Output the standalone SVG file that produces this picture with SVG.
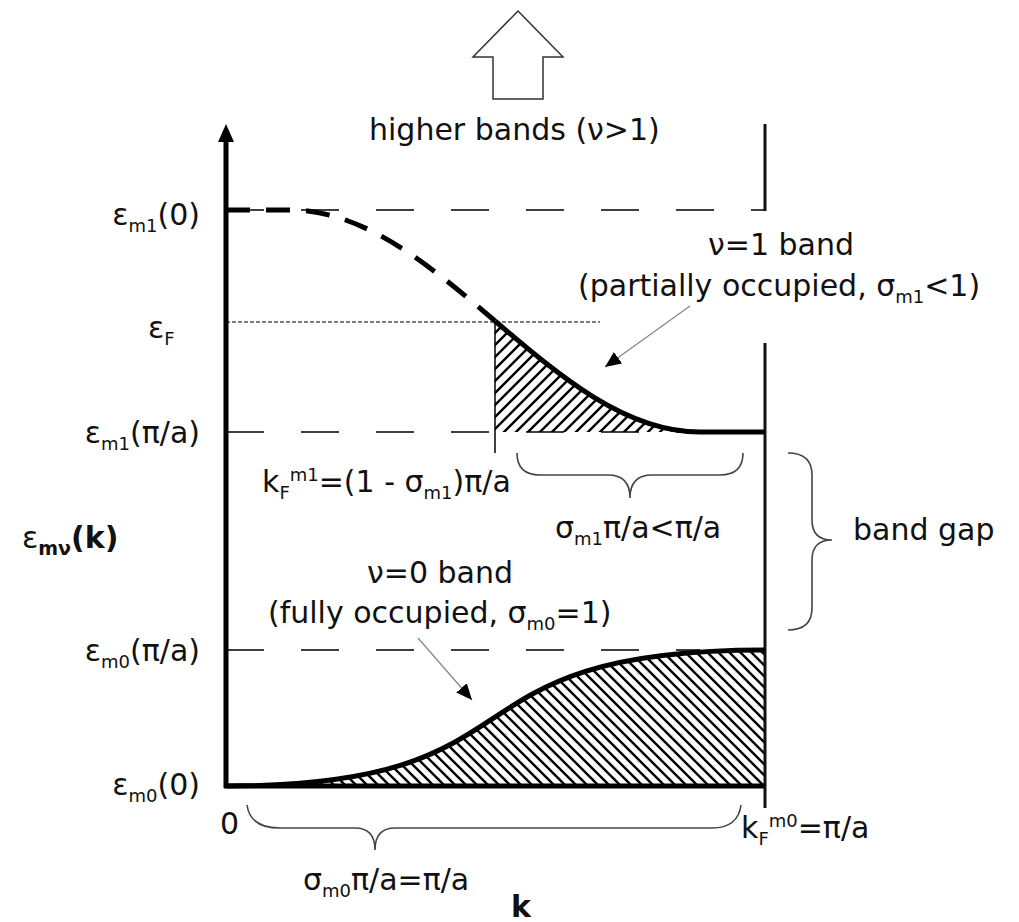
<svg xmlns="http://www.w3.org/2000/svg" width="1019" height="922" viewBox="0 0 1019 922">
<style>
text{font-family:"DejaVu Sans","Liberation Sans",sans-serif;font-size:30px;fill:#111}
.sub{font-size:18px}
.ref{stroke:#000;stroke-width:1.5;fill:none;stroke-dasharray:38 37}
.brace{stroke:#444;stroke-width:1.6;fill:none}
.ptr{stroke:#888;stroke-width:1.3;fill:none}
.curve{stroke:#000;stroke-width:5;fill:none}
.hl{stroke:#000;stroke-width:2.4;fill:none}
</style>
<defs>
<pattern id="hatchBack" patternUnits="userSpaceOnUse" x="0" y="0" width="11" height="11">
<path class="hl" d="M0,0 L11,11 M-2,9 L2,13 M9,-2 L13,2"/>
</pattern>
<pattern id="hatchFwd" patternUnits="userSpaceOnUse" x="0" y="0" width="12" height="12">
<path class="hl" d="M0,12 L12,0 M-2,2 L2,-2 M10,14 L14,10"/>
</pattern>
<marker id="head" markerUnits="userSpaceOnUse" markerWidth="18" markerHeight="14" refX="16" refY="7" orient="auto">
<path d="M0,0 L16,7 L0,14 Z" fill="#000"/>
</marker>
</defs>
<rect width="1019" height="922" fill="#fff"/>

<g id="hatching">
<path d="M226,786 C556,786 430,650 765,650 L765,786 Z" fill="url(#hatchBack)"/>
<path d="M495,321 C560.25,376.5 625.5,432 700,432 L495,432 Z" fill="url(#hatchFwd)"/>
</g>

<g id="reference-lines">
<line class="ref" x1="226" y1="210" x2="765" y2="210"/>
<line class="ref" x1="226" y1="432" x2="765" y2="432"/>
<line class="ref" x1="226" y1="650" x2="700" y2="650"/>
<line x1="226" y1="322" x2="600" y2="322" stroke="#000" stroke-width="1.2" stroke-dasharray="4 2"/>
<line x1="495" y1="321" x2="495" y2="453" stroke="#000" stroke-width="1.5"/>
</g>

<g id="axes">
<line x1="226" y1="138" x2="226" y2="788" stroke="#000" stroke-width="5"/>
<path d="M218,142 L226,124 L234,142 Z" fill="#000"/>
<line x1="224" y1="786" x2="766" y2="786" stroke="#000" stroke-width="5"/>
<line x1="765" y1="124" x2="765" y2="211" stroke="#111" stroke-width="3"/>
<line x1="765" y1="343" x2="765" y2="808" stroke="#111" stroke-width="3"/>
</g>

<g id="bands">
<path class="curve" d="M226,210 L290,210 C364.5,210 429.75,265.5 495,321" stroke-dasharray="24 16"/>
<path class="curve" d="M495,321 C560.25,376.5 625.5,432 700,432 L765,432"/>
<path class="curve" d="M226,786 C556,786 430,650 765,650"/>
</g>

<g id="higher-bands">
<polygon points="518,11 563,57 543,57 543,99 493,99 493,57 473,57" fill="#fff" stroke="#333" stroke-width="1.5"/>
<text x="369" y="140">higher bands (ν&gt;1)</text>
</g>

<g id="connectors">
<line class="ptr" x1="690" y1="306" x2="605" y2="367" marker-end="url(#head)"/>
<line class="ptr" x1="418" y1="638" x2="472" y2="700" marker-end="url(#head)"/>
<path class="brace" d="M788,453 Q812,453 812,475 L812,520 Q812,540 832,540 Q812,540 812,560 L812,608 Q812,630 788,630"/>
<path class="brace" d="M517,453 Q517,475 540,475 L608,475 Q630,475 630,498 Q630,475 652,475 L720,475 Q743,475 743,453"/>
<path class="brace" d="M247,805 Q250,828 280,828 L355,828 Q375,828 375,850 Q375,828 395,828 L712,828 Q738,828 741,805"/>
</g>

<g id="y-labels">
<text x="200" y="225" text-anchor="end">ε<tspan class="sub" dy="7">m1</tspan><tspan dy="-7">(0)</tspan></text>
<text x="148" y="338">ε<tspan class="sub" dy="7">F</tspan></text>
<text x="200" y="443" text-anchor="end">ε<tspan class="sub" dy="7">m1</tspan><tspan dy="-7">(π/a)</tspan></text>
<text x="22" y="548" font-size="32">ε<tspan font-size="19" dy="7" font-weight="bold">mν</tspan><tspan dy="-7" font-weight="bold">(k)</tspan></text>
<text x="200" y="661" text-anchor="end">ε<tspan class="sub" dy="7">m0</tspan><tspan dy="-7">(π/a)</tspan></text>
<text x="200" y="795" text-anchor="end">ε<tspan class="sub" dy="7">m0</tspan><tspan dy="-7">(0)</tspan></text>
</g>

<g id="band1-label">
<text x="708" y="255">ν=1 band</text>
<text x="578" y="296">(partially occupied, σ<tspan class="sub" dy="7">m1</tspan><tspan dy="-7">&lt;1)</tspan></text>
</g>

<g id="band0-label">
<text x="367" y="583">ν=0 band</text>
<text x="268" y="623">(fully occupied, σ<tspan class="sub" dy="7">m0</tspan><tspan dy="-7">=1)</tspan></text>
</g>

<g id="k-labels">
<text x="262" y="492">k<tspan class="sub" dy="7">F</tspan><tspan class="sub" dy="-18">m1</tspan><tspan dy="11">=(1 - σ</tspan><tspan class="sub" dy="7">m1</tspan><tspan dy="-7">)π/a</tspan></text>
<text x="555" y="538">σ<tspan class="sub" dy="7">m1</tspan><tspan dy="-7">π/a&lt;π/a</tspan></text>
<text x="853" y="540">band gap</text>
<text x="220" y="834">0</text>
<text x="741" y="838">k<tspan class="sub" dy="7">F</tspan><tspan class="sub" dy="-18">m0</tspan><tspan dy="11">=π/a</tspan></text>
<text x="303" y="890">σ<tspan class="sub" dy="7">m0</tspan><tspan dy="-7">π/a=π/a</tspan></text>
<text x="511" y="917" font-weight="bold">k</text>
</g>
</svg>
